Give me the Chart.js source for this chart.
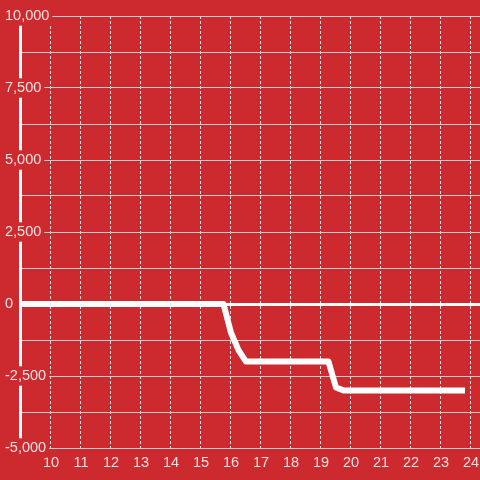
<!DOCTYPE html>
<html>
<head>
<meta charset="utf-8">
<script src="https://cdn.jsdelivr.net/npm/chart.js@4"></script>
<style>
  html, body { margin: 0; padding: 0; background: #cc2a2f; }
  #wrap { width: 480px; height: 480px; }
</style>
</head>
<body>
<div id="wrap"><canvas id="chart"></canvas></div>
<script>
// values
const xValues = [8.75, 15.75, 16, 16.25, 16.5, 19.25, 19.5, 19.75, 23.8];
const yValues = [0, 0, -1000, -1600, -2000, -2000, -2900, -3000, -3000];
const xTicks = [10, 11, 12, 13, 14, 15, 16, 17, 18, 19, 20, 21, 22, 23, 24];
const yTicks = [-5000, -3750, -2500, -1250, 0, 1250, 2500, 3750, 5000, 6250, 7500, 8750, 10000];
const yLabelStep = 2500;

const bg = '#cc2a2f';
const textColor = 'rgba(255,255,255,0.86)';
const font = { family: '"Liberation Sans", Arial, sans-serif', size: 14.5 };

const ctx = document.getElementById('chart').getContext('2d');
new Chart(ctx, {
  type: 'line',
  data: {
    datasets: [{
      data: xValues.map((x, i) => ({ x, y: yValues[i] })),
      borderColor: '#ffffff',
      borderWidth: 6,
      borderJoinStyle: 'round',
      pointRadius: 0,
      tension: 0,
      fill: false
    }]
  },
  options: {
    responsive: true,
    maintainAspectRatio: false,
    animation: false,
    layout: { padding: { left: 0, top: 16, right: 0, bottom: 0 } },
    plugins: { legend: { display: false }, tooltip: { enabled: false } },
    scales: {
      x: {
        type: 'linear',
        min: 8.967,
        max: 24.3,
        afterBuildTicks: scale => { scale.ticks = xTicks.map(v => ({ value: v })); },
        afterFit: scale => {
          scale.height = 32;
          scale.paddingLeft = 0;
          scale.paddingRight = 0;
        },
        grid: { color: '#dddddd', lineWidth: 1, drawTicks: false },
        border: { display: false, dash: [3, 2] },
        ticks: { color: textColor, font, padding: 6, maxRotation: 0, autoSkip: false }
      },
      y: {
        type: 'linear',
        min: -5000,
        max: 10000,
        afterBuildTicks: scale => { scale.ticks = yTicks.map(v => ({ value: v })); },
        afterFit: scale => { scale.width = 20; },
        grid: {
          drawTicks: false,
          color: c => c.tick && c.tick.value === 0 ? '#ffffff' : '#cccccc',
          lineWidth: c => c.tick && c.tick.value === 0 ? 3 : 1
        },
        border: { display: true, color: '#ffffff', width: 3 },
        ticks: {
          color: textColor,
          font,
          mirror: true,
          padding: -15,
          autoSkip: false,
          showLabelBackdrop: true,
          backdropColor: bg,
          backdropPadding: { top: 1, bottom: 1, left: 0, right: 3 },
          callback: v => v % yLabelStep === 0 ? v.toLocaleString('en-US') : ''
        }
      }
    }
  }
});
</script>
</body>
</html>
